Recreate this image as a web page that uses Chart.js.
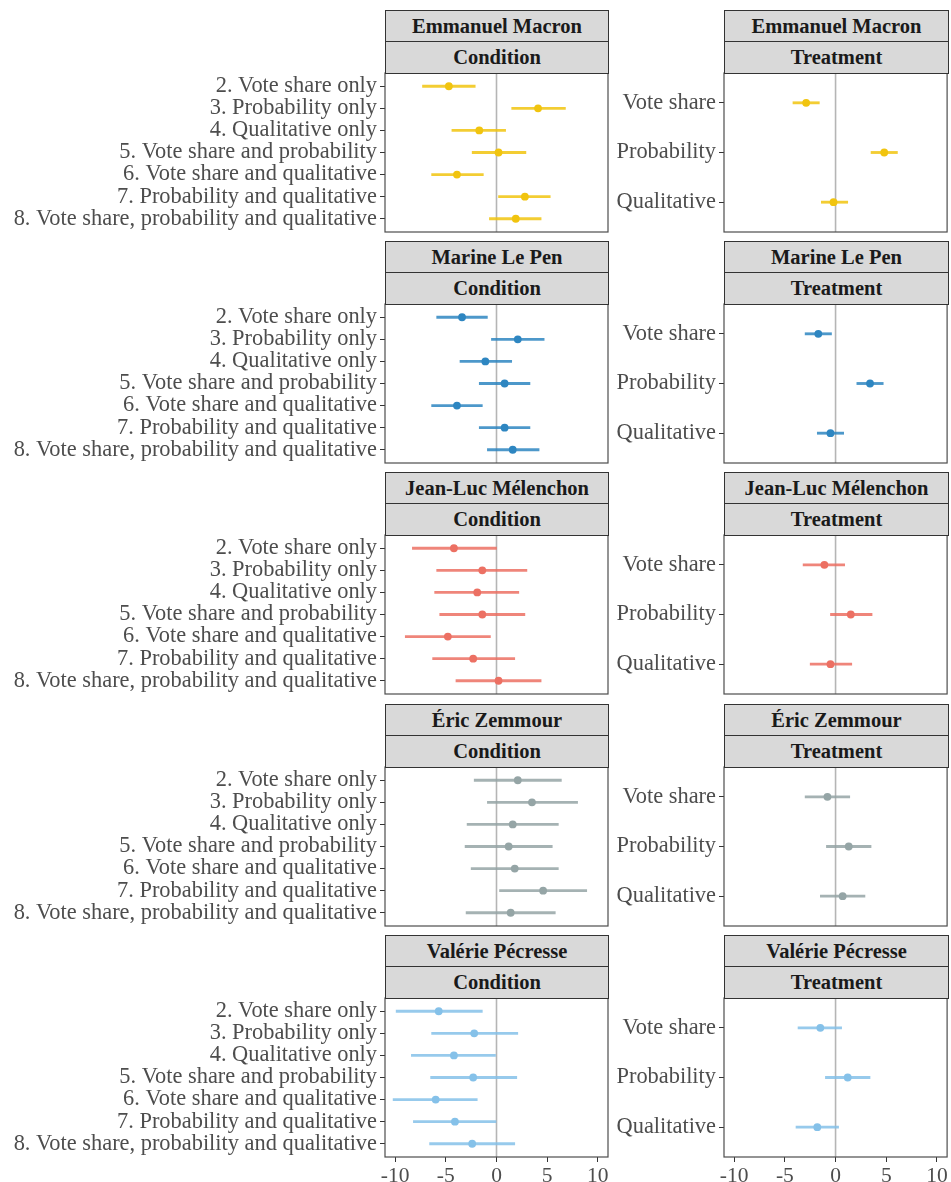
<!DOCTYPE html>
<html>
<head>
<meta charset="utf-8">
<script src="https://cdn.jsdelivr.net/npm/chart.js@4/dist/chart.umd.min.js"></script>
<style>
  html, body { margin: 0; padding: 0; background: #ffffff; }
  #fig { position: relative; width: 951px; height: 1182px; overflow: hidden; background: #ffffff; }
  #fig canvas { position: absolute; }
  .strip { position: absolute; box-sizing: border-box; border: 1px solid #333333; background: #D9D9D9;
           font-family: "Liberation Serif", "Times New Roman", serif; font-weight: bold; font-size: 20.5px;
           color: #1A1A1A; text-align: center; }
  .strip div { box-sizing: border-box; height: 31px; line-height: 30px; }
  .strip div.upper { border-bottom: 1px solid #333333; }
</style>
</head>
<body>
<div id="fig"></div>
<script>
// Facet labels and axis categories
const candidates = ["Emmanuel Macron", "Marine Le Pen", "Jean-Luc Mélenchon", "Éric Zemmour", "Valérie Pécresse"];
const panelTypes = ["Condition", "Treatment"];
const conditions = [
  "2. Vote share only",
  "3. Probability only",
  "4. Qualitative only",
  "5. Vote share and probability",
  "6. Vote share and qualitative",
  "7. Probability and qualitative",
  "8. Vote share, probability and qualitative"
];
const treatments = ["Vote share", "Probability", "Qualitative"];
const xTicks = [-10, -5, 0, 5, 10];
const colors = ["#F1C40F", "#2E86C1", "#EC7063", "#95A5A6", "#85C1E9"];

// Estimates with lower / upper confidence bounds
const macronCondEst  = [-4.7, 4.1, -1.7, 0.2, -3.9, 2.8, 1.9];
const macronCondLow  = [-7.3, 1.5, -4.4, -2.4, -6.4, 0.2, -0.7];
const macronCondHigh = [-2.1, 6.8, 0.9, 2.9, -1.3, 5.3, 4.4];
const macronTrtEst   = [-2.9, 4.8, -0.2];
const macronTrtLow   = [-4.2, 3.5, -1.4];
const macronTrtHigh  = [-1.6, 6.1, 1.2];

const lepenCondEst  = [-3.4, 2.1, -1.1, 0.8, -3.9, 0.8, 1.6];
const lepenCondLow  = [-5.9, -0.5, -3.6, -1.7, -6.4, -1.7, -0.9];
const lepenCondHigh = [-0.9, 4.7, 1.5, 3.3, -1.4, 3.3, 4.2];
const lepenTrtEst   = [-1.7, 3.4, -0.5];
const lepenTrtLow   = [-3.0, 2.1, -1.8];
const lepenTrtHigh  = [-0.4, 4.7, 0.8];

const melenchonCondEst  = [-4.2, -1.4, -1.9, -1.4, -4.8, -2.3, 0.2];
const melenchonCondLow  = [-8.3, -5.9, -6.1, -5.6, -9.0, -6.3, -4.0];
const melenchonCondHigh = [0.0, 3.0, 2.2, 2.8, -0.6, 1.8, 4.4];
const melenchonTrtEst   = [-1.1, 1.5, -0.5];
const melenchonTrtLow   = [-3.2, -0.5, -2.5];
const melenchonTrtHigh  = [0.9, 3.6, 1.6];

const zemmourCondEst  = [2.1, 3.5, 1.6, 1.2, 1.8, 4.6, 1.4];
const zemmourCondLow  = [-2.2, -0.9, -2.9, -3.1, -2.5, 0.3, -3.0];
const zemmourCondHigh = [6.4, 8.0, 6.1, 5.5, 6.1, 8.9, 5.8];
const zemmourTrtEst   = [-0.8, 1.3, 0.7];
const zemmourTrtLow   = [-3.0, -0.9, -1.5];
const zemmourTrtHigh  = [1.4, 3.5, 2.9];

const pecresseCondEst  = [-5.7, -2.2, -4.2, -2.3, -6.0, -4.1, -2.4];
const pecresseCondLow  = [-9.9, -6.4, -8.4, -6.5, -10.2, -8.2, -6.6];
const pecresseCondHigh = [-1.4, 2.1, -0.1, 2.0, -1.9, 0.0, 1.8];
const pecresseTrtEst   = [-1.5, 1.2, -1.8];
const pecresseTrtLow   = [-3.7, -1.0, -3.9];
const pecresseTrtHigh  = [0.6, 3.4, 0.3];

const rows = [
  [[macronCondEst, macronCondLow, macronCondHigh], [macronTrtEst, macronTrtLow, macronTrtHigh]],
  [[lepenCondEst, lepenCondLow, lepenCondHigh], [lepenTrtEst, lepenTrtLow, lepenTrtHigh]],
  [[melenchonCondEst, melenchonCondLow, melenchonCondHigh], [melenchonTrtEst, melenchonTrtLow, melenchonTrtHigh]],
  [[zemmourCondEst, zemmourCondLow, zemmourCondHigh], [zemmourTrtEst, zemmourTrtLow, zemmourTrtHigh]],
  [[pecresseCondEst, pecresseCondLow, pecresseCondHigh], [pecresseTrtEst, pecresseTrtLow, pecresseTrtHigh]]
];

// Layout of the facet grid
const FONT = '"Liberation Serif", "Times New Roman", serif';
const TEXT_GREY = '#4D4D4D';
const PANEL_H = 159;
const PAD = 8;
const AXIS_H = 30;
const cols = [
  { canvasLeft: 0,   canvasWidth: 612, axisWidth: 385, padRight: 4 },
  { canvasLeft: 612, canvasWidth: 339, axisWidth: 112, padRight: 3 }
];

function withAlpha(hex, a) {
  const n = parseInt(hex.slice(1), 16);
  return `rgba(${(n >> 16) & 255},${(n >> 8) & 255},${n & 255},${a})`;
}

// Panel frame and vertical reference line at zero
const panelFrame = {
  id: 'panelFrame',
  beforeDatasetsDraw(chart) {
    const { ctx, chartArea: a, scales } = chart;
    const x0 = scales.x.getPixelForValue(0);
    ctx.save();
    ctx.strokeStyle = 'rgba(150,150,150,0.7)';
    ctx.lineWidth = 1.6;
    ctx.beginPath();
    ctx.moveTo(x0, a.top);
    ctx.lineTo(x0, a.bottom);
    ctx.stroke();
    ctx.restore();
  },
  afterDatasetsDraw(chart) {
    const { ctx, chartArea: a } = chart;
    ctx.save();
    ctx.strokeStyle = '#4D4D4D';
    ctx.lineWidth = 1.2;
    ctx.strokeRect(a.left, a.top, a.right - a.left, a.bottom - a.top);
    ctx.restore();
  }
};

const fig = document.getElementById('fig');

rows.forEach((pair, r) => {
  const panelTop = Math.round(73 + 231.2 * r);
  const isBottom = r === rows.length - 1;
  pair.forEach(([est, low, high], c) => {
    const col = cols[c];
    const labels = c === 0 ? conditions : treatments;
    const color = colors[r];

    // strip header
    const strip = document.createElement('div');
    strip.className = 'strip';
    strip.style.left = (col.canvasLeft + col.axisWidth) + 'px';
    strip.style.top = (panelTop - 63) + 'px';
    strip.style.width = (col.canvasWidth - col.axisWidth - col.padRight + 1) + 'px';
    strip.style.height = '64px';
    const up = document.createElement('div');
    up.className = 'upper';
    up.textContent = candidates[r];
    const lo = document.createElement('div');
    lo.textContent = panelTypes[c];
    strip.appendChild(up);
    strip.appendChild(lo);

    // chart canvas
    const canvas = document.createElement('canvas');
    const h = PAD + PANEL_H + (isBottom ? AXIS_H : PAD);
    canvas.width = col.canvasWidth;
    canvas.height = h;
    canvas.style.left = col.canvasLeft + 'px';
    canvas.style.top = (panelTop - PAD) + 'px';
    canvas.style.width = col.canvasWidth + 'px';
    canvas.style.height = h + 'px';
    fig.appendChild(canvas);
    fig.appendChild(strip);

    const ciData = labels.map((_, i) => ({ x: [low[i], high[i]], y: i }));
    const estData = labels.map((_, i) => ({ x: est[i], y: i }));

    new Chart(canvas, {
      type: 'bar',
      data: {
        datasets: [
          {
            type: 'bar',
            data: ciData,
            backgroundColor: withAlpha(color, 0.85),
            borderWidth: 0,
            barThickness: 2.2,
            borderSkipped: false
          },
          {
            type: 'scatter',
            data: estData,
            backgroundColor: color,
            borderWidth: 0,
            pointRadius: 3.9,
            pointHoverRadius: 3.9
          }
        ]
      },
      options: {
        indexAxis: 'y',
        responsive: false,
        animation: false,
        devicePixelRatio: 1,
        layout: { padding: { top: PAD, right: col.padRight, bottom: isBottom ? 0 : PAD, left: 0 } },
        plugins: { legend: { display: false }, tooltip: { enabled: false } },
        scales: {
          x: {
            type: 'linear',
            min: -11,
            max: 11,
            offset: false,
            display: isBottom,
            afterBuildTicks(s) { s.ticks = xTicks.map(v => ({ value: v })); },
            afterFit(s) {
              s.height = isBottom ? AXIS_H : 0;
              s.paddingLeft = 0;
              s.paddingRight = 0;
            },
            grid: { offset: false, drawOnChartArea: false, drawTicks: true, tickLength: 5, color: '#333333', lineWidth: 1 },
            border: { display: false },
            ticks: { font: { family: FONT, size: 21.5 }, color: TEXT_GREY, padding: 1, maxRotation: 0, autoSkip: false,
                     callback: v => String(v) }
          },
          y: {
            type: 'linear',
            min: -0.6,
            max: labels.length - 0.4,
            reverse: true,
            offset: false,
            afterBuildTicks(s) { s.ticks = labels.map((_, i) => ({ value: i })); },
            afterFit(s) {
              s.width = col.axisWidth;
              s.paddingTop = 0;
              s.paddingBottom = 0;
            },
            grid: { offset: false, drawOnChartArea: false, drawTicks: true, tickLength: 5, color: '#333333', lineWidth: 1 },
            border: { display: false },
            ticks: { font: { family: FONT, size: 22.4 }, color: TEXT_GREY, padding: 3, autoSkip: false,
                     callback: v => labels[v] }
          }
        }
      },
      plugins: [panelFrame]
    });
  });
});
</script>
</body>
</html>
